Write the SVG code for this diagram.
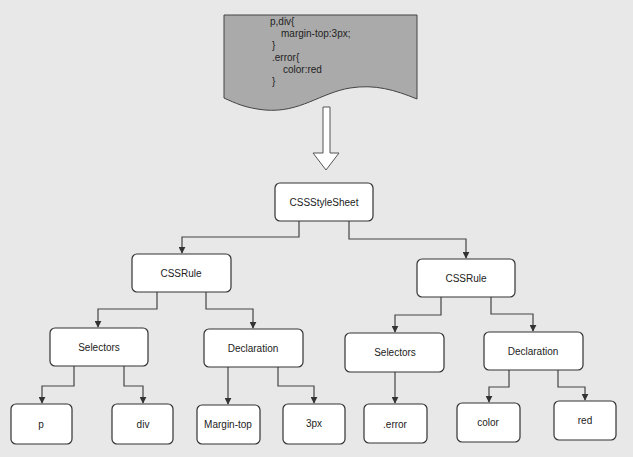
<svg xmlns="http://www.w3.org/2000/svg" width="633" height="457" viewBox="0 0 633 457">
<defs>
<style>
.n rect{fill:#fff;stroke:#333;stroke-width:1.2}
.n text{font-family:"Liberation Sans",Arial,sans-serif;font-size:10px;fill:#222;text-anchor:middle;dominant-baseline:central}
.c path{fill:none;stroke:#444;stroke-width:1.2;marker-end:url(#a)}
.code{font-family:"Liberation Sans",Arial,sans-serif;font-size:10px;fill:#222}
</style>
<marker id="a" viewBox="0 0 10 10" refX="9" refY="5" markerWidth="7" markerHeight="7" orient="auto" markerUnits="userSpaceOnUse"><path d="M0,0L10,5L0,10z" fill="#333"/></marker>
</defs>
<rect width="633" height="457" fill="#e8e8e8"/>
<g id="doc">
<path d="M224,15H417V99C395,90 375,84 350,88C320,93 300,113 265,110C245,108 235,103 224,98Z" fill="#aaa" stroke="#444" stroke-width="1"/>
<text class="code" x="270" y="25">p,div{</text>
<text class="code" x="281" y="37">margin-top:3px;</text>
<text class="code" x="272" y="49">}</text>
<text class="code" x="272" y="61">.error{</text>
<text class="code" x="283" y="73">color:red</text>
<text class="code" x="272" y="85">}</text>
</g>
<g id="bigarrow"><path d="M323,107H330V153H339L326,170L313,153H323Z" fill="#fff" stroke="#555" stroke-width="1"/></g>
<g class="c" id="connectors">
<path d="M299,221V237H182V253"/>
<path d="M349,221V239H466V258"/>
<path d="M157,292V309H98V327"/>
<path d="M206,292V309H253V328"/>
<path d="M74,366V386H42V403"/>
<path d="M124,366V386H143V403"/>
<path d="M228,367V404"/>
<path d="M278,367V386H314V403"/>
<path d="M441,297V315H395V332"/>
<path d="M491,297V314H533V331"/>
<path d="M395,372V403"/>
<path d="M509,370V387H489V402"/>
<path d="M558,370V387H585V400"/>
</g>
<g class="n" id="n-sheet"><rect x="275" y="183" width="98" height="38" rx="5"/><text x="324" y="202">CSSStyleSheet</text></g>
<g class="n" id="n-rule1"><rect x="132" y="254" width="99" height="38" rx="5"/><text x="181" y="273">CSSRule</text></g>
<g class="n" id="n-sel1"><rect x="50" y="328" width="98" height="38" rx="5"/><text x="99" y="347">Selectors</text></g>
<g class="n" id="n-dec1"><rect x="204" y="329" width="99" height="38" rx="5"/><text x="253" y="348">Declaration</text></g>
<g class="n" id="n-p"><rect x="11" y="404" width="61" height="40" rx="5"/><text x="41" y="424">p</text></g>
<g class="n" id="n-div"><rect x="112" y="404" width="61" height="40" rx="5"/><text x="143" y="424">div</text></g>
<g class="n" id="n-mt"><rect x="197" y="405" width="63" height="39" rx="5"/><text x="228" y="424">Margin-top</text></g>
<g class="n" id="n-3px"><rect x="283" y="404" width="62" height="40" rx="5"/><text x="314" y="423">3px</text></g>
<g class="n" id="n-rule2"><rect x="417" y="259" width="98" height="38" rx="5"/><text x="466" y="278">CSSRule</text></g>
<g class="n" id="n-sel2"><rect x="345" y="333" width="99" height="39" rx="5"/><text x="395" y="352">Selectors</text></g>
<g class="n" id="n-dec2"><rect x="484" y="332" width="99" height="38" rx="5"/><text x="533" y="351">Declaration</text></g>
<g class="n" id="n-err"><rect x="364" y="404" width="63" height="39" rx="5"/><text x="395" y="424">.error</text></g>
<g class="n" id="n-color"><rect x="457" y="403" width="63" height="39" rx="5"/><text x="488" y="422">color</text></g>
<g class="n" id="n-red"><rect x="554" y="401" width="62" height="39" rx="5"/><text x="585" y="420">red</text></g>
</svg>
